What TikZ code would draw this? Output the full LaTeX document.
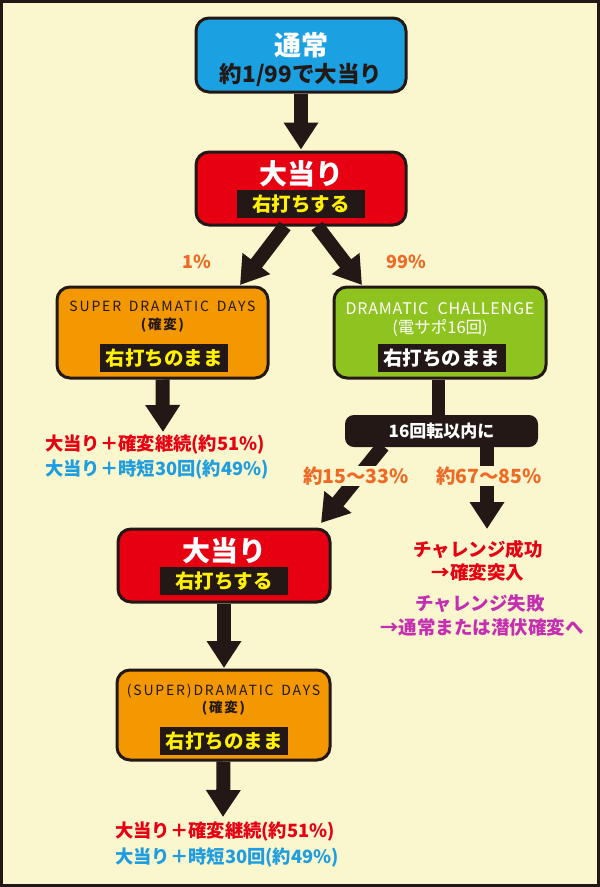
\documentclass[tikz,border=0pt]{standalone}
\usepackage{fontspec}
\setmainfont{Noto Sans CJK JP}
\newfontfamily\spacedfont[LetterSpace=13]{Noto Sans CJK JP}
\newfontfamily\midspaced[LetterSpace=5]{Noto Sans CJK JP}
\usetikzlibrary{arrows.meta}
\definecolor{bg}{HTML}{FAF6CD}
\definecolor{dark}{HTML}{231815}
\definecolor{boxblue}{HTML}{1BA0E1}
\definecolor{boxred}{HTML}{E60012}
\definecolor{boxorange}{HTML}{F39800}
\definecolor{boxgreen}{HTML}{8FC31F}
\definecolor{txtyellow}{HTML}{FFF100}
\definecolor{txtorange}{HTML}{EE6A25}
\definecolor{txtred}{HTML}{E60012}
\definecolor{txtblue}{HTML}{1E9EE0}
\definecolor{txtmagenta}{HTML}{C42FB2}
\newcommand\fsz[1]{\fontsize{#1}{#1}\selectfont}
\newcommand\wsp{\hspace{0.55em}}
\begin{document}
\begin{tikzpicture}[x=1pt,y=-1pt,
  flowbox/.style={draw=dark, line width=3pt, rounded corners=13pt, inner sep=0pt},
  band/.style={fill=dark, inner sep=0pt, minimum width=128pt, minimum height=28pt, font=\fsz{19.5}\bfseries},
  txt/.style={inner sep=0pt, font=\bfseries},
  bigarrow/.style={draw=dark, line width=14pt, -{Triangle[width=33pt,length=27pt]}},
  stem/.style={draw=dark, line width=13pt},
  pct/.style={inner sep=1pt, fill=bg, text=txtorange, font=\fsz{19.5}\bfseries}]
\fill[bg] (0,0) rectangle (600,887);
\draw[dark, line width=3pt] (1.5,1.5) rectangle (598.5,885.5);
\useasboundingbox (0,0) rectangle (600,887);

% boxes
\node[flowbox, fill=boxblue, minimum width=210pt, minimum height=74pt] (top) at (301,55) {};
\node[flowbox, fill=boxred, minimum width=210pt, minimum height=73pt] (red1) at (301,188.5) {};
\node[flowbox, fill=boxorange, minimum width=211pt, minimum height=91pt] (or1) at (162.5,332.5) {};
\node[flowbox, fill=boxgreen, minimum width=212pt, minimum height=91pt] (gr) at (440,332.5) {};
\node[flowbox, fill=boxred, minimum width=212pt, minimum height=73pt] (red2) at (224,565.5) {};
\node[flowbox, fill=boxorange, minimum width=213pt, minimum height=90pt] (or2) at (223.5,715) {};

% texts in boxes
\node[txt, text=white, font=\fsz{27}\bfseries] (t1) at (301,45) {通常};
\node[txt, text=dark, font=\fsz{22.5}\bfseries] (t2) at (301,75) {約1/99で大当り};

\node[txt, text=white, font=\fsz{28}\bfseries] (r1a) at (301,174) {大当り};
\node[band, text=txtyellow] (r1b) at (301,204) {右打ちする};

\node[txt, text=dark, font=\fsz{14}\spacedfont] (o1a) at (162.5,306) {SUPER\wsp DRAMATIC\wsp DAYS};
\node[txt, text=dark, font=\fsz{13.5}\spacedfont\bfseries] (o1b) at (162.5,325) {(確変)};
\node[band, text=txtyellow] (o1c) at (164,358) {右打ちのまま};

\node[txt, text=white, font=\fsz{16}\midspaced] (g1a) at (440,309) {DRAMATIC\hspace{0.3em} CHALLENGE};
\node[txt, text=white, font=\fsz{16.5}] (g1b) at (440,328) {(電サポ16回)};
\node[band, text=white] (g1c) at (441.5,358) {右打ちのまま};

\node[txt, text=white, font=\fsz{28}\bfseries] (r2a) at (224,551) {大当り};
\node[band, text=txtyellow] (r2b) at (224,581) {右打ちする};

\node[txt, text=dark, font=\fsz{14}\spacedfont] (o2a) at (223.5,691) {(SUPER)DRAMATIC\wsp DAYS};
\node[txt, text=dark, font=\fsz{13.5}\spacedfont\bfseries] (o2b) at (223.5,708) {(確変)};
\node[band, text=txtyellow] (o2c) at (224,741) {右打ちのまま};

% black label
\node[fill=dark, rounded corners=9pt, minimum width=193pt, minimum height=32pt, inner sep=0pt,
      text=white, font=\fsz{17}\bfseries] (lab) at (441.5,431) {16回転以内に};

% connector end points
\coordinate (a1s) at (285,226);
\coordinate (a1e) at (240,285);
\coordinate (a2s) at (317,226);
\coordinate (a2e) at (362,285);
\coordinate (o1tip) at (163,432);
\coordinate (l1s) at (383,446);
\coordinate (l1e) at (321,523);
\coordinate (l2s) at (487,446);
\coordinate (l2e) at (487,529);
\coordinate (r2tip) at (224,668);
\coordinate (o2tip) at (223,817);

% arrows
\draw[bigarrow] (top.south) -- ([yshift=1pt]red1.north);
\draw[bigarrow] (a1s) -- (a1e);
\draw[bigarrow] (a2s) -- (a2e);
\draw[bigarrow] (or1.south) -- (o1tip);
\draw[stem] ([xshift=-2pt]gr.south) -- ([xshift=-3.5pt]lab.north);
\draw[bigarrow] (l1s) -- (l1e);
\draw[bigarrow] (l2s) -- (l2e);
\draw[bigarrow] (red2.south) -- (r2tip);
\draw[bigarrow] (or2.south) -- (o2tip);

% percentage labels
\node[pct, fill=none, font=\fsz{18}\bfseries] (p1) at (197,262) {1\%};
\node[pct, fill=none, font=\fsz{18}\bfseries] (p99) at (406,262) {99\%};
\node[pct] (p15) at (356,476) {約15～33\%};
\node[pct] (p67) at (489,476) {約67～85\%};

% outcome texts
\node[txt, anchor=west, text=txtred, font=\fsz{18.3}\bfseries] (res1) at (45,445) {大当り＋確変継続(約51\%)};
\node[txt, anchor=west, text=txtblue, font=\fsz{18.3}\bfseries] (res2) at (45,470) {大当り＋時短30回(約49\%)};
\node[txt, anchor=west, text=txtred, font=\fsz{18.3}\bfseries] (res3) at (115,832) {大当り＋確変継続(約51\%)};
\node[txt, anchor=west, text=txtblue, font=\fsz{18.3}\bfseries] (res4) at (115,858) {大当り＋時短30回(約49\%)};

\node[txt, text=txtred, font=\fsz{18.5}\bfseries] (c1) at (478,549) {チャレンジ成功};
\node[txt, text=txtred, font=\fsz{18.5}\bfseries] (c2) at (478,572) {→確変突入};
\node[txt, text=txtmagenta, font=\fsz{18.5}\bfseries] (c3) at (480,604) {チャレンジ失敗};
\node[txt, text=txtmagenta, font=\fsz{18.5}\bfseries] (c4) at (482,627) {→通常または潜伏確変へ};
\end{tikzpicture}
\end{document}
